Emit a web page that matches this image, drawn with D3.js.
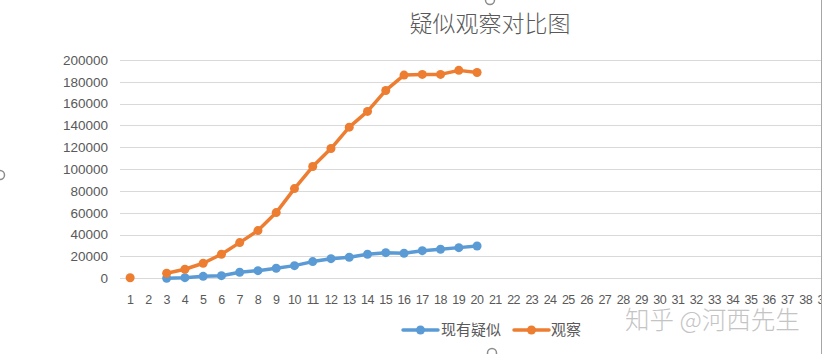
<!DOCTYPE html>
<html><head><meta charset="utf-8">
<script src="https://cdn.jsdelivr.net/npm/d3@7/dist/d3.min.js"></script>
<style>body{margin:0;background:#fff}svg{display:block}</style>
</head><body>
<svg id="c" width="822" height="354"></svg>
<script>
const title = "疑似观察对比图";
const categories = d3.range(1, 40).map(String);
const seriesNames = ["现有疑似", "观察"];
const suspected = [null, null, 0, 600, 1800, 2400, 5500, 7000, 9200, 11600, 15300, 18000, 19300, 22000, 23500, 22900, 25300, 26600, 28100, 29600];
const observed = [500, null, 4600, 8300, 13800, 22000, 32700, 43700, 60200, 82200, 102400, 118900, 138500, 152900, 172100, 186200, 186800, 186800, 190500, 188600];
const yTicks = [0, 20000, 40000, 60000, 80000, 100000, 120000, 140000, 160000, 180000, 200000];
const colors = ["#5B9BD5", "#ED7D31"];

const svg = d3.select("#c");
const font = "'Liberation Sans', Arial, sans-serif";
const cjk = "'Noto Sans CJK SC', sans-serif";

svg.append("defs").append("clipPath").attr("id", "clip")
  .append("rect").attr("x", 0).attr("y", 0).attr("width", 821).attr("height", 354);

const x = d3.scaleBand().domain(categories).range([121, 121 + 39 * 18.26]);
const y = d3.scaleLinear().domain([0, 200000]).range([278.3, 60]);

const g = svg.append("g").attr("clip-path", "url(#clip)");

// gridlines
g.selectAll("line.grid").data(yTicks).join("line")
  .attr("x1", 120).attr("x2", 822)
  .attr("y1", d => Math.round(y(d)) + 0.5).attr("y2", d => Math.round(y(d)) + 0.5)
  .attr("stroke", "#d9d9d9").attr("stroke-width", 1);

// y labels
svg.append("g").selectAll("text").data(yTicks).join("text")
  .attr("x", 108).attr("y", d => y(d)).attr("dy", "0.35em")
  .attr("text-anchor", "end").attr("font-family", font).attr("font-size", 13.5)
  .attr("fill", "#595959").text(d => d);

// x labels
g.selectAll("text.xl").data(categories).join("text")
  .attr("class", "xl")
  .attr("x", d => x(d) + x.bandwidth() / 2).attr("y", 304)
  .attr("text-anchor", "middle").attr("font-family", font).attr("font-size", 12.5)
  .attr("letter-spacing", "-0.5px")
  .attr("fill", "#595959").text(d => d);

const cx = i => x(categories[i]) + x.bandwidth() / 2;
const line = d3.line().defined(d => d != null).x((d, i) => cx(i)).y(d => y(d));

[suspected, observed].forEach((s, k) => {
  g.append("path").datum(s).attr("d", line)
    .attr("fill", "none").attr("stroke", colors[k]).attr("stroke-width", 3.5)
    .attr("stroke-linejoin", "round").attr("stroke-linecap", "round");
  g.selectAll("circle.s" + k).data(s.map((v, i) => ({v, i})).filter(d => d.v != null)).join("circle")
    .attr("cx", d => cx(d.i)).attr("cy", d => y(d.v)).attr("r", 4.5)
    .attr("fill", colors[k]);
});

// title
svg.append("text").attr("x", 490).attr("y", 32).attr("text-anchor", "middle")
  .attr("font-family", cjk).attr("font-weight", 300).attr("font-size", 23).attr("fill", "#595959").text(title);

// legend
const leg = [{x: 403, tx: 441}, {x: 514, tx: 551}];
seriesNames.forEach((n, k) => {
  const L = svg.append("g");
  L.append("line").attr("x1", leg[k].x).attr("x2", leg[k].x + 35).attr("y1", 330).attr("y2", 330)
    .attr("stroke", colors[k]).attr("stroke-width", 3.5).attr("stroke-linecap", "round");
  L.append("circle").attr("cx", leg[k].x + 17.5).attr("cy", 330).attr("r", 4.5).attr("fill", colors[k]);
  L.append("text").attr("x", leg[k].tx).attr("y", 330).attr("dy", "0.35em")
    .attr("font-family", cjk).attr("font-size", 15).attr("fill", "#595959").text(n);
});

// watermark
svg.append("text").attr("x", 625).attr("y", 329).attr("font-family", cjk).attr("font-size", 24.5)
  .attr("font-weight", 300).attr("fill", "#c4c4c4").text("知乎 @河西先生");

// frame border and handles
svg.append("line").attr("x1", 821.5).attr("x2", 821.5).attr("y1", 0).attr("y2", 354)
  .attr("stroke", "#a6a6a6").attr("stroke-width", 1);
[[490, 0], [0, 175], [492, 353]].forEach(([hx, hy]) => {
  svg.append("circle").attr("cx", hx).attr("cy", hy).attr("r", 4.5)
    .attr("fill", "#fff").attr("stroke", "#8c8c8c").attr("stroke-width", 1.5);
});
</script>
</body></html>
